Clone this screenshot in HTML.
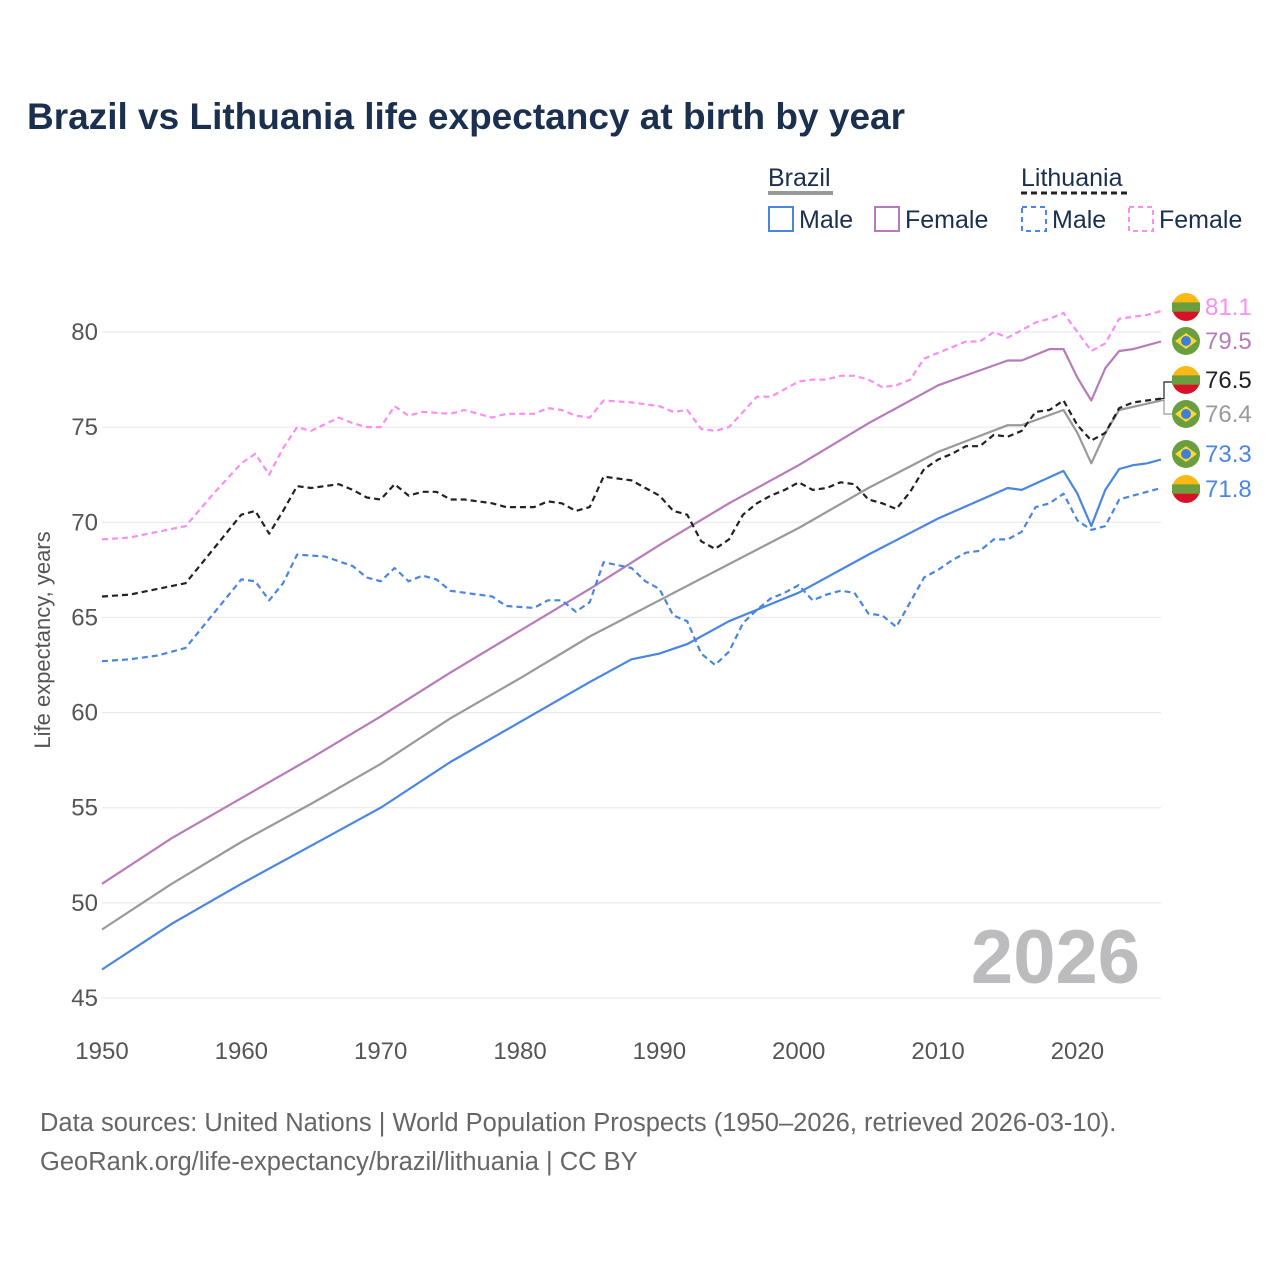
<!DOCTYPE html>
<html><head><meta charset="utf-8"><style>
body{margin:0;background:#fff;font-family:"Liberation Sans",sans-serif}
svg text{font-family:"Liberation Sans",sans-serif}
</style></head><body>
<svg id="c" width="1280" height="1280" viewBox="0 0 1280 1280" xmlns="http://www.w3.org/2000/svg">
<text x="27" y="129" font-size="37" font-weight="bold" fill="#1b2f4e">Brazil vs Lithuania life expectancy at birth by year</text>
<g font-size="25" fill="#1b2f4e">
<text x="768" y="186">Brazil</text>
<line x1="768" y1="193" x2="833" y2="193" stroke="#999" stroke-width="4"/>
<text x="1021" y="186">Lithuania</text>
<line x1="1021" y1="193" x2="1127" y2="193" stroke="#222" stroke-width="3" stroke-dasharray="6,4"/>
<g><rect x="769" y="207" width="24" height="24" fill="none" stroke="#4a86e0" stroke-width="2"/><text x="799" y="228">Male</text></g>
<g><rect x="875" y="207" width="24" height="24" fill="none" stroke="#b77bb9" stroke-width="2"/><text x="905" y="228">Female</text></g>
<g><rect x="1022" y="207" width="24" height="24" fill="none" stroke="#4a86e0" stroke-width="2" stroke-dasharray="5,4"/><text x="1052" y="228">Male</text></g>
<g><rect x="1129" y="207" width="24" height="24" fill="none" stroke="#f98ef5" stroke-width="2" stroke-dasharray="5,4"/><text x="1159" y="228">Female</text></g>
</g>
<g id="grid"></g>
<text x="1140" y="983" font-size="76" font-weight="bold" fill="#bcbcbf" text-anchor="end">2026</text>
<g id="series"></g>
<g id="labels"></g>
<text transform="translate(50,640) rotate(-90)" font-size="22" fill="#555" text-anchor="middle">Life expectancy, years</text>
<text x="40" y="1131" font-size="25.5" fill="#666">Data sources: United Nations | World Population Prospects (1950–2026, retrieved 2026-03-10).</text>
<text x="40" y="1170" font-size="25.5" fill="#666">GeoRank.org/life-expectancy/brazil/lithuania | CC BY</text>
</svg>
<script>
const yTicks=[45,50,55,60,65,70,75,80];
const xTicks=[1950,1960,1970,1980,1990,2000,2010,2020];
const brMaleYears=[1950,1955,1960,1965,1970,1975,1980,1985,1988,1990,1992,1995,2000,2005,2010,2015,2016,2019,2020,2021,2022,2023,2024,2025,2026];
const brMale=[46.5,48.9,51.0,53.0,55.0,57.4,59.5,61.6,62.8,63.1,63.6,64.8,66.3,68.3,70.2,71.8,71.7,72.7,71.5,69.8,71.7,72.8,73.0,73.1,73.3];
const brFemaleYears=[1950,1955,1960,1965,1970,1975,1980,1985,1990,1995,2000,2005,2010,2015,2016,2018,2019,2020,2021,2022,2023,2024,2026];
const brFemale=[51.0,53.4,55.5,57.6,59.8,62.1,64.3,66.5,68.8,71.0,73.0,75.2,77.2,78.5,78.5,79.1,79.1,77.6,76.4,78.1,79.0,79.1,79.5];
const brTotalYears=[1950,1955,1960,1965,1970,1975,1980,1985,1990,1995,2000,2005,2010,2015,2016,2019,2020,2021,2022,2023,2026];
const brTotal=[48.6,51.0,53.2,55.2,57.3,59.7,61.8,64.0,65.9,67.8,69.7,71.8,73.7,75.1,75.1,75.9,74.7,73.1,74.7,75.9,76.4];
const ltFemaleYears=[1950,1952,1954,1956,1958,1960,1961,1962,1963,1964,1965,1967,1968,1969,1970,1971,1972,1973,1975,1976,1978,1979,1981,1982,1983,1984,1985,1986,1988,1990,1991,1992,1993,1994,1995,1996,1997,1998,1999,2000,2001,2002,2003,2004,2005,2006,2007,2008,2009,2010,2011,2012,2013,2014,2015,2016,2017,2018,2019,2020,2021,2022,2023,2024,2025,2026];
const ltFemale=[69.1,69.2,69.5,69.8,71.5,73.1,73.6,72.5,73.9,75.0,74.8,75.5,75.2,75.0,75.0,76.1,75.6,75.8,75.7,75.9,75.5,75.7,75.7,76.0,75.9,75.6,75.5,76.4,76.3,76.1,75.8,75.9,74.9,74.8,75.0,75.8,76.6,76.6,77.0,77.4,77.5,77.5,77.7,77.7,77.5,77.1,77.2,77.5,78.6,78.9,79.2,79.5,79.5,80.0,79.7,80.1,80.5,80.7,81.0,80.0,79.0,79.4,80.7,80.8,80.9,81.1];
const ltTotalYears=[1950,1952,1954,1956,1958,1960,1961,1962,1963,1964,1965,1967,1968,1969,1970,1971,1972,1973,1974,1975,1976,1978,1979,1981,1982,1983,1984,1985,1986,1988,1989,1990,1991,1992,1993,1994,1995,1996,1997,1998,1999,2000,2001,2002,2003,2004,2005,2006,2007,2008,2009,2010,2011,2012,2013,2014,2015,2016,2017,2018,2019,2020,2021,2022,2023,2024,2025,2026];
const ltTotal=[66.1,66.2,66.5,66.8,68.6,70.4,70.6,69.4,70.6,71.9,71.8,72.0,71.7,71.3,71.2,72.0,71.4,71.6,71.6,71.2,71.2,71.0,70.8,70.8,71.1,71.0,70.6,70.8,72.4,72.2,71.8,71.4,70.6,70.4,69.0,68.6,69.1,70.4,71.0,71.4,71.7,72.1,71.7,71.8,72.1,72.0,71.2,71.0,70.7,71.6,72.8,73.3,73.6,74.0,74.0,74.6,74.5,74.8,75.8,75.9,76.4,75.1,74.3,74.7,76.0,76.3,76.4,76.5];
const ltMaleYears=[1950,1952,1954,1956,1958,1960,1961,1962,1963,1964,1966,1968,1969,1970,1971,1972,1973,1974,1975,1976,1978,1979,1981,1982,1983,1984,1985,1986,1988,1989,1990,1991,1992,1993,1994,1995,1996,1997,1998,1999,2000,2001,2002,2003,2004,2005,2006,2007,2008,2009,2010,2011,2012,2013,2014,2015,2016,2017,2018,2019,2020,2021,2022,2023,2024,2025,2026];
const ltMale=[62.7,62.8,63.0,63.4,65.2,67.0,66.9,65.9,66.8,68.3,68.2,67.7,67.1,66.9,67.6,66.9,67.2,67.0,66.4,66.3,66.1,65.6,65.5,65.9,65.9,65.3,65.8,67.9,67.6,66.9,66.5,65.1,64.8,63.1,62.5,63.2,64.7,65.4,66.0,66.3,66.7,65.9,66.2,66.4,66.3,65.2,65.1,64.5,65.8,67.1,67.5,68.0,68.4,68.5,69.1,69.1,69.5,70.8,71.0,71.5,70.1,69.6,69.8,71.2,71.4,71.6,71.8];

const NS='http://www.w3.org/2000/svg';
const X0=102,X1=1161,Y0=1950,Y1=2026,V0=45,V1=80,P0=998,P1=332;
const xs=y=>X0+(y-Y0)*(X1-X0)/(Y1-Y0);
const ys=v=>P0-(v-V0)*(P0-P1)/(V1-V0);
function mk(tag,attrs,parent){const e=document.createElementNS(NS,tag);for(const k in attrs)e.setAttribute(k,attrs[k]);parent.appendChild(e);return e;}
const grid=document.getElementById('grid');
yTicks.forEach(v=>{
  const l=mk('line',{x1:X0,x2:X1,y1:ys(v),y2:ys(v),stroke:'#e6e6e6','stroke-width':1},grid);
  
  
  const t=mk('text',{x:X0-4,y:ys(v)+8,'font-size':24,fill:'#555','text-anchor':'end'},grid);
  t.textContent=v;
  
  
});
xTicks.forEach(yr=>{
  const t=mk('text',{x:xs(yr),y:1059,'font-size':24,fill:'#555','text-anchor':'middle'},grid);
  t.textContent=yr;
  
  
});
const ser=document.getElementById('series');
function line(years,vals,color,dash,name){
  const d=years.map((y,i)=>(i?'L':'M')+xs(y).toFixed(1)+','+ys(vals[i]).toFixed(1)).join('');
  const p=mk('path',{d:d,fill:'none',stroke:color,'stroke-width':2.2,'stroke-linejoin':'round'},ser);
  if(dash)p.setAttribute('stroke-dasharray',dash);
  
  
}
line(brTotalYears,brTotal,'#999',null,'line-brazil-total');
line(brFemaleYears,brFemale,'#b77bb9',null,'line-brazil-female');
line(brMaleYears,brMale,'#4a86e0',null,'line-brazil-male');
line(ltFemaleYears,ltFemale,'#f98ef5','6,4','line-lithuania-female');
line(ltMaleYears,ltMale,'#4a86e0','6,4','line-lithuania-male');
line(ltTotalYears,ltTotal,'#222','6,4','line-lithuania-total');

const lab=document.getElementById('labels');
function flag(cx,cy,country,g){
  const r=14;
  if(country==='lt'){
    mk('circle',{cx:cx,cy:cy,r:r,fill:'#fdb913'},g);
    mk('path',{d:`M${cx-r},${cy-r/3}h${2*r}v${2*r/3}h${-2*r}z`,fill:'#6a9e3f'},g);
    mk('path',{d:`M${cx-r*0.94},${cy+r/3}A${r},${r} 0 0 0 ${cx+r*0.94},${cy+r/3}z`,fill:'#d7112a'},g);
  }else{
    mk('circle',{cx:cx,cy:cy,r:r,fill:'#6a9e3f'},g);
    mk('path',{d:`M${cx-11},${cy}L${cx},${cy-8}L${cx+11},${cy}L${cx},${cy+8}z`,fill:'#fdd835'},g);
    mk('circle',{cx:cx,cy:cy,r:5,fill:'#3f7fd6'},g);
  }
}
const labels=[[81.1,307,'#f98ef5','lt','label-lithuania-female'],[79.5,341,'#b77bb9','br','label-brazil-female'],[76.5,380,'#222','lt','label-lithuania-total'],[76.4,414,'#999','br','label-brazil-total'],[73.3,454,'#4a86e0','br','label-brazil-male'],[71.8,489,'#4a86e0','lt','label-lithuania-male']];
labels.forEach(([v,y,c,f,n])=>{
  const g=mk('g',{},lab);
  
  
  flag(1186,y,f,g);
  const t=mk('text',{x:1205,y:y+8,'font-size':24,fill:c},g);
  t.textContent=v.toFixed(1);
});
mk('path',{d:`M1161,${ys(76.5)}h3V382h8`,fill:'none',stroke:'#222','stroke-width':1.2},lab);
mk('path',{d:`M1161,${ys(76.4)}h3V414h8`,fill:'none',stroke:'#999','stroke-width':1.2},lab);
</script>
</body></html>
